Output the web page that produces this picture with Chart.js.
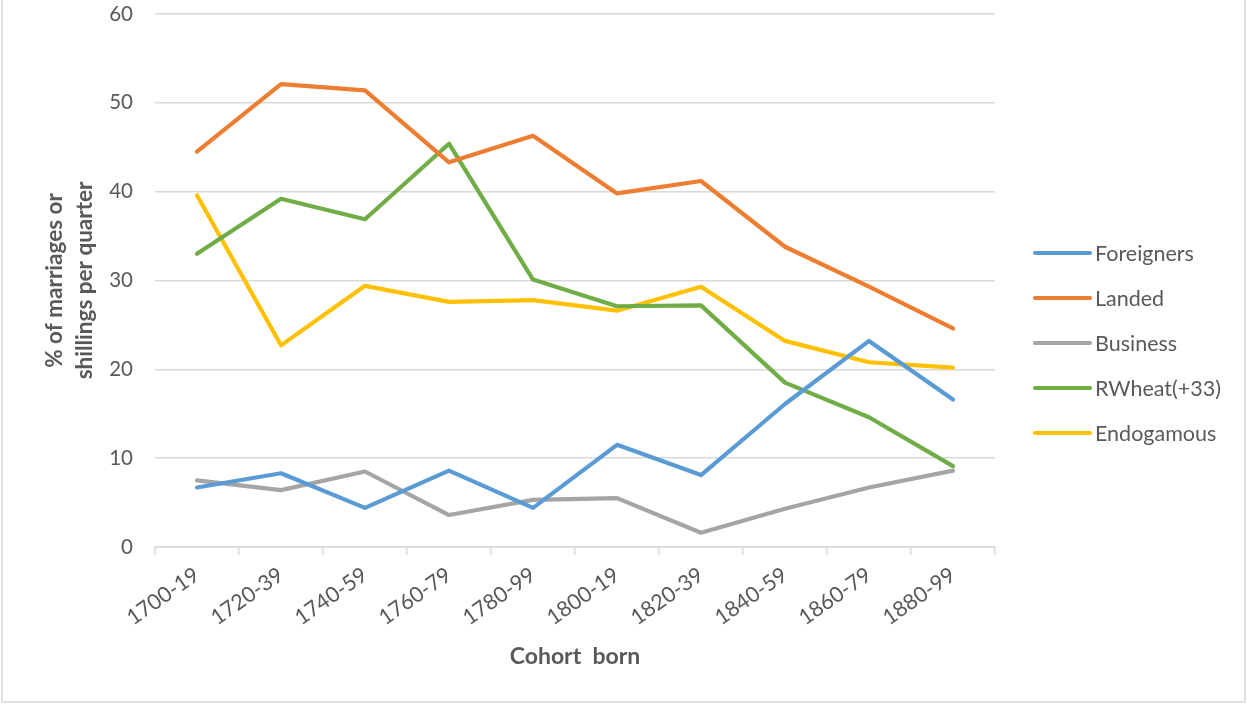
<!DOCTYPE html>
<html>
<head>
<meta charset="utf-8">
<script src="https://cdn.jsdelivr.net/npm/chart.js@4.4.0/dist/chart.umd.min.js"></script>
<style>
  html, body { margin: 0; padding: 0; background: #fff; }
  #wrap { width: 1247px; height: 704px; position: relative; }
  canvas { display: block; }
</style>
</head>
<body>
<div id="wrap"><canvas id="c" width="1247" height="704"></canvas></div>
<script>
const categories = ['1700-19','1720-39','1740-59','1760-79','1780-99','1800-19','1820-39','1840-59','1860-79','1880-99'];
const foreigners = [6.7, 8.3, 4.4, 8.6, 4.4, 11.5, 8.1, 16.1, 23.2, 16.6];
const landed     = [44.5, 52.1, 51.4, 43.3, 46.3, 39.8, 41.2, 33.8, 29.3, 24.6];
const business   = [7.5, 6.4, 8.5, 3.6, 5.3, 5.5, 1.6, 4.3, 6.7, 8.6];
const rwheat     = [33.0, 39.2, 36.9, 45.4, 30.1, 27.1, 27.2, 18.5, 14.6, 9.1];
const endogamous = [39.6, 22.7, 29.4, 27.6, 27.8, 26.6, 29.3, 23.2, 20.8, 20.2];
const yTicks = [0, 10, 20, 30, 40, 50, 60];

const FONT = 'Lato, "Open Sans", sans-serif';
const TXT = '#595959';
const GRID = '#d9d9d9';

function ds(label, data, color) {
  return { label, data, borderColor: color, backgroundColor: color, borderWidth: 4.2,
           pointRadius: 0, pointHoverRadius: 0, tension: 0, fill: false,
           borderCapStyle: 'round', borderJoinStyle: 'round' };
}

const legendPlugin = {
  id: 'customLegend',
  afterDraw(chart) {
    const ctx = chart.ctx;
    const x0 = 1035, x1 = 1090, tx = 1095;
    const ys = [253, 298, 343, 388, 433];
    ctx.save();
    chart.data.datasets.forEach((d, i) => {
      ctx.strokeStyle = d.borderColor;
      ctx.lineWidth = 4.2;
      ctx.lineCap = 'round';
      ctx.beginPath();
      ctx.moveTo(x0, ys[i]);
      ctx.lineTo(x1, ys[i]);
      ctx.stroke();
      ctx.fillStyle = TXT;
      ctx.font = '21.5px ' + FONT;
      ctx.textBaseline = 'middle';
      ctx.textAlign = 'left';
      ctx.fillText(d.label, tx, ys[i] + 1);
    });
    ctx.strokeStyle = GRID;
    ctx.lineWidth = 1.5;
    ctx.strokeRect(2, -2, 1243, 704);
    ctx.restore();
  }
};

new Chart(document.getElementById('c'), {
  type: 'line',
  data: {
    labels: categories,
    datasets: [
      ds('Foreigners', foreigners, '#5B9BD5'),
      ds('Landed', landed, '#ED7D31'),
      ds('Business', business, '#A5A5A5'),
      ds('RWheat(+33)', rwheat, '#70AD47'),
      ds('Endogamous', endogamous, '#FFC000')
    ]
  },
  options: {
    responsive: false,
    animation: false,
    events: [],
    layout: { padding: { left: 0, top: 14, right: 252, bottom: 0 } },
    plugins: { legend: { display: false }, tooltip: { enabled: false } },
    scales: {
      x: {
        type: 'category',
        offset: true,
        grid: { offset: true, drawOnChartArea: false, drawTicks: true, tickLength: 8, color: GRID, lineWidth: 1.5 },
        border: { display: true, color: GRID, width: 1.5 },
        ticks: { color: TXT, font: { family: FONT, size: 21.5 }, minRotation: 35, maxRotation: 35, padding: 7 },
        title: { display: true, text: 'Cohort  born', color: TXT, font: { family: FONT, size: 23, weight: 'bold', lineHeight: 1.2 }, padding: { top: 0, bottom: 34 } },
        afterFit(s) { s.height = 704 - 547; s.paddingLeft = 0; s.paddingRight = 0; }
      },
      y: {
        min: 0, max: 60,
        afterBuildTicks(s) { s.ticks = yTicks.map(v => ({ value: v })); },
        grid: { drawTicks: false, color: GRID, lineWidth: 1.5 },
        border: { display: false },
        ticks: { color: TXT, font: { family: FONT, size: 20.5 }, padding: 22 },
        title: { display: true, text: ['% of marriages or', 'shillings per quarter'], color: TXT, font: { family: FONT, size: 22.5, weight: 'bold', lineHeight: 1.333 }, padding: { top: 40, bottom: 0 } },
        afterFit(s) { s.width = 155; s.paddingTop = 0; s.paddingBottom = 0; }
      }
    }
  },
  plugins: [legendPlugin]
});
</script>
</body>
</html>
